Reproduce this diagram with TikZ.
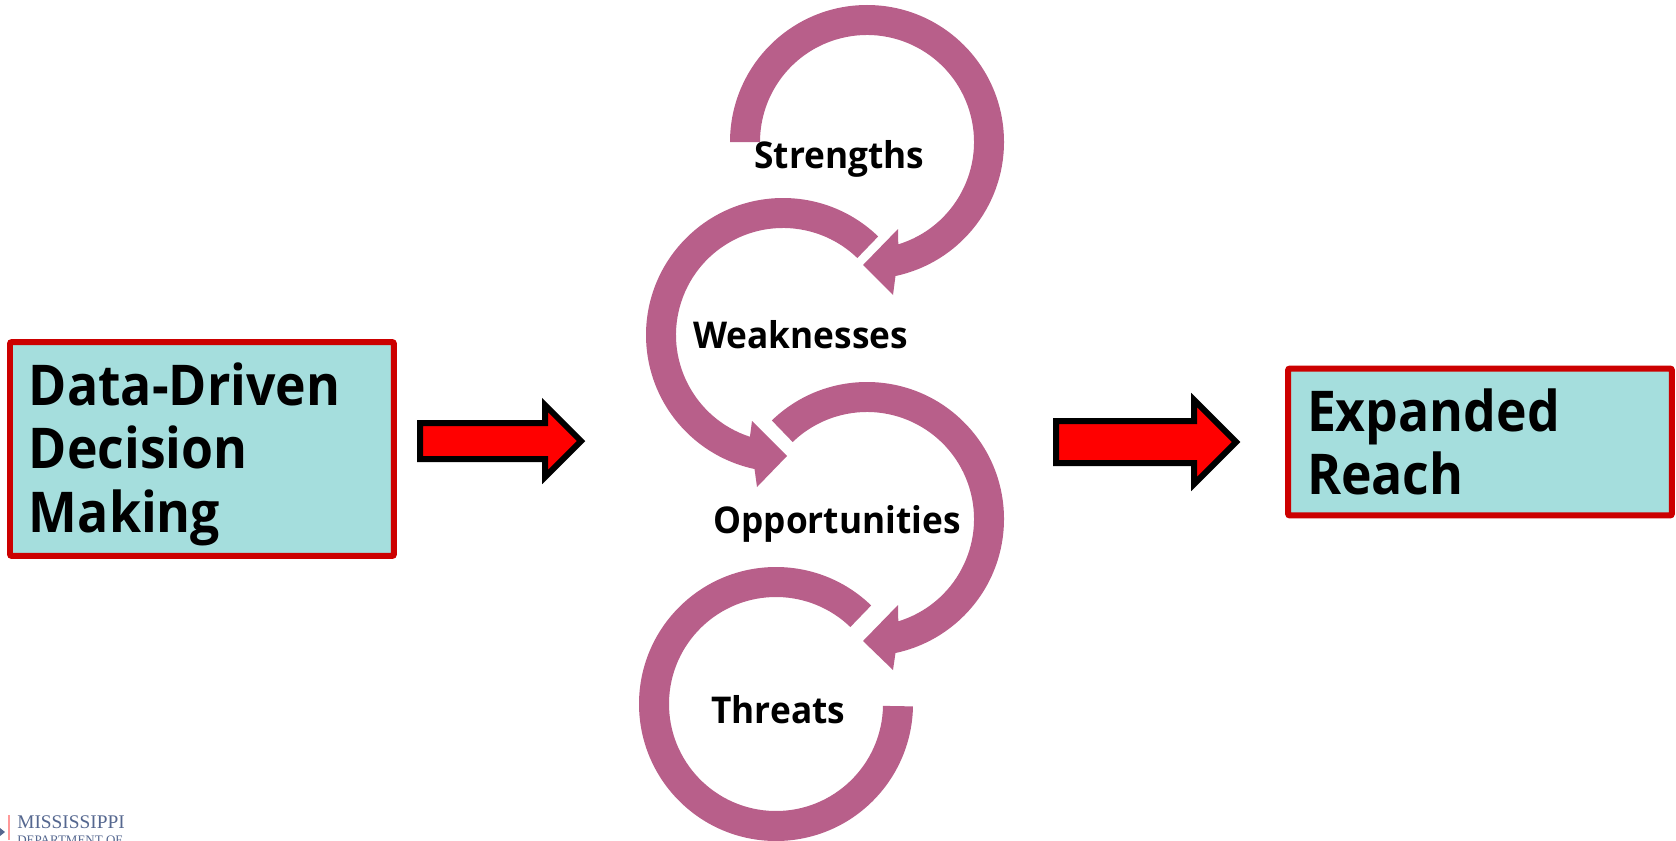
\documentclass[tikz,border=0pt]{standalone}
\usepackage{tikz}
\usepackage{xcolor}
\usepackage{fontspec}
\usetikzlibrary{calc}
\setmainfont[FakeStretch=0.955]{Open Sans}
\newfontfamily\boxfont[FakeStretch=0.92]{Open Sans}
\newfontfamily\logofont{Liberation Serif}
\definecolor{loopcolor}{HTML}{B85F8A}
\definecolor{boxfill}{HTML}{A5DEDD}
\definecolor{boxline}{HTML}{CC0000}
\definecolor{logoblue}{HTML}{55678F}
\tikzset{
	swotloop/.style={fill=loopcolor,draw=none},
	swotlabel/.style={anchor=base west,inner sep=0pt,font=\bfseries\fontsize{21}{25}\selectfont},
	goalbox/.style={draw=boxline,fill=boxfill,line width=0.12cm,rounded corners=0.04cm,
		align=left,anchor=west,text width=6.92cm,inner xsep=0.38cm,
		font=\boxfont\bfseries\fontsize{32}{36.1}\selectfont},
	blockarrow/.style={draw=black,fill=red,line width=0.12cm,miter limit=10},
	logolabel/.style={anchor=base west,inner sep=0pt,text=logoblue},
}

\begin{document}
\begin{tikzpicture}[x=0.02cm,y=0.02cm]
	\useasboundingbox (0,0) rectangle (1676,840);
	\clip (0,0) rectangle (1676,840);

	%strengths
	\path[swotloop] (867,698) ++(180:137) arc(180:-78:137) -- (893,545) -- (863,575)
		-- (898,611) -- ($(867,698)+(-73:107)$) arc(-73:180:107) -- cycle;
	\node[swotlabel](strengths) at (754,672) {Strengths};

	%weaknesses
	\path[swotloop] (783,505) ++(46:137) arc(46:258:137) -- (757,353) -- (787,384)
		-- (752,419) -- ($(783,505)+(252:107)$) arc(252:46:107) -- cycle;
	\node[swotlabel](weaknesses) at (693,492) {Weaknesses};

	%opportunities
	\path[swotloop] (867,321) ++(134:137) arc(134:-78:137) -- (893,170) -- (863,199)
		-- (898,235) -- ($(867,321)+(-73:107)$) arc(-73:134:107) -- cycle;
	\node[swotlabel](opportunities) at (713,307) {Opportunities};

	%threats
	\path[swotloop] (776,136) ++(46:137) arc(46:359:137)
		-- ($(776,136)+(359:107)$) arc(359:46:107) -- cycle;
	\node[swotlabel](threats) at (711,117) {Threats};

	%boxes
	\node[goalbox,minimum height=4.28cm]
		(decision) at (7,391) {\rule{0pt}{1.07cm}Data-Driven\\Decision\\Making};
	\node[goalbox,minimum height=2.94cm]
		(reach) at (1285,398) {Expanded\\Reach};

	%arrows
	\draw[blockarrow] (420,417) -- (545,417) -- (545,435) -- (581,399) -- (545,363)
		-- (545,381) -- (420,381) -- cycle;
	\draw[blockarrow] (1056,419) -- (1194,419) -- (1194,440) -- (1236,398) -- (1194,356)
		-- (1194,377) -- (1056,377) -- cycle;

	%logo
	\fill[logoblue] (0,12) -- (5,8) -- (0,4) -- cycle;
	\draw[red!40,line width=0.04cm] (9,0) -- (9,25);
	\node[logolabel,font=\logofont\fontsize{11}{11}\selectfont]
		(logotop) at (17,12) {MISSISSIPPI};
	\node[logolabel,font=\logofont\fontsize{7.4}{9}\selectfont]
		(logobottom) at (17,-4) {DEPARTMENT OF};
\end{tikzpicture}
\end{document}
